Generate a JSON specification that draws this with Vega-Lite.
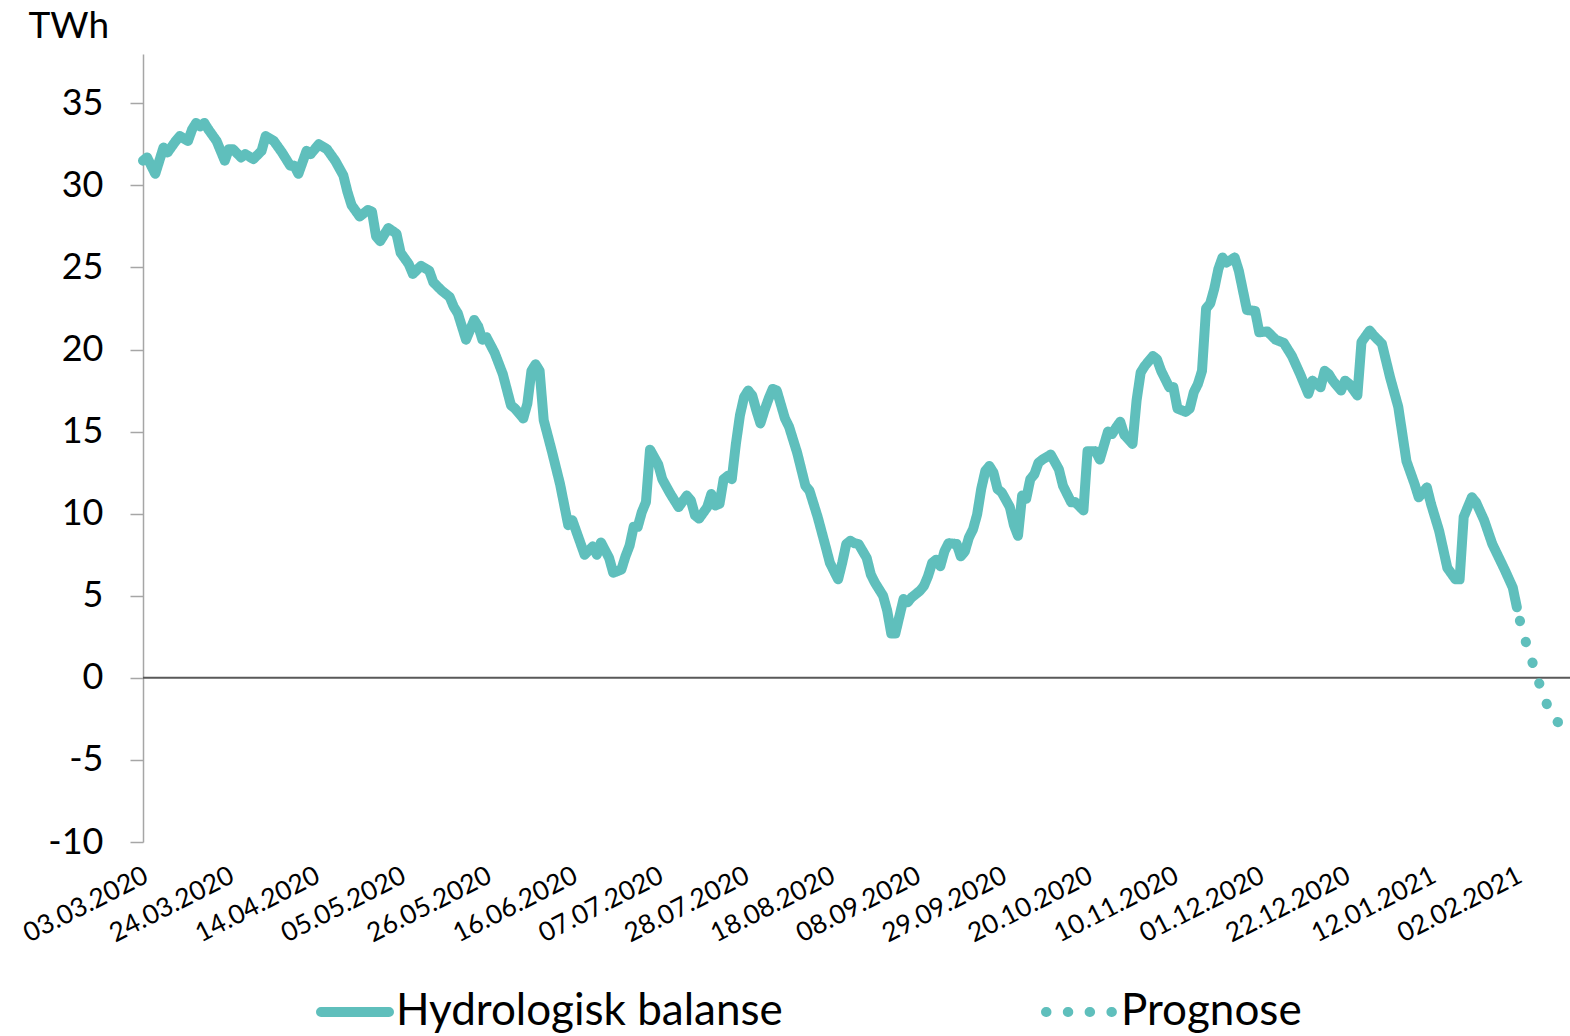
{
  "$schema": "https://vega.github.io/schema/vega-lite/v6.json",
  "width": 1427,
  "height": 788,
  "autosize": "none",
  "padding": {"left": 143, "top": 54, "right": 0, "bottom": 194},
  "background": "white",
  "config": {"view": {"stroke": null}, "font": "Lato"},
  "data": {"values": [
    {"dato":"2020-03-03","TWh":31.5,"serie":"Hydrologisk balanse"},
    {"dato":"2020-03-04","TWh":31.7,"serie":"Hydrologisk balanse"},
    {"dato":"2020-03-06","TWh":30.7,"serie":"Hydrologisk balanse"},
    {"dato":"2020-03-08","TWh":32.3,"serie":"Hydrologisk balanse"},
    {"dato":"2020-03-09","TWh":32.0,"serie":"Hydrologisk balanse"},
    {"dato":"2020-03-11","TWh":32.7,"serie":"Hydrologisk balanse"},
    {"dato":"2020-03-12","TWh":33.0,"serie":"Hydrologisk balanse"},
    {"dato":"2020-03-14","TWh":32.7,"serie":"Hydrologisk balanse"},
    {"dato":"2020-03-15","TWh":33.4,"serie":"Hydrologisk balanse"},
    {"dato":"2020-03-16","TWh":33.8,"serie":"Hydrologisk balanse"},
    {"dato":"2020-03-17","TWh":33.6,"serie":"Hydrologisk balanse"},
    {"dato":"2020-03-18","TWh":33.8,"serie":"Hydrologisk balanse"},
    {"dato":"2020-03-19","TWh":33.4,"serie":"Hydrologisk balanse"},
    {"dato":"2020-03-21","TWh":32.7,"serie":"Hydrologisk balanse"},
    {"dato":"2020-03-23","TWh":31.5,"serie":"Hydrologisk balanse"},
    {"dato":"2020-03-24","TWh":32.2,"serie":"Hydrologisk balanse"},
    {"dato":"2020-03-25","TWh":32.2,"serie":"Hydrologisk balanse"},
    {"dato":"2020-03-27","TWh":31.7,"serie":"Hydrologisk balanse"},
    {"dato":"2020-03-28","TWh":31.9,"serie":"Hydrologisk balanse"},
    {"dato":"2020-03-30","TWh":31.6,"serie":"Hydrologisk balanse"},
    {"dato":"2020-04-01","TWh":32.1,"serie":"Hydrologisk balanse"},
    {"dato":"2020-04-02","TWh":33.0,"serie":"Hydrologisk balanse"},
    {"dato":"2020-04-04","TWh":32.7,"serie":"Hydrologisk balanse"},
    {"dato":"2020-04-06","TWh":32.0,"serie":"Hydrologisk balanse"},
    {"dato":"2020-04-08","TWh":31.2,"serie":"Hydrologisk balanse"},
    {"dato":"2020-04-09","TWh":31.2,"serie":"Hydrologisk balanse"},
    {"dato":"2020-04-10","TWh":30.7,"serie":"Hydrologisk balanse"},
    {"dato":"2020-04-12","TWh":32.1,"serie":"Hydrologisk balanse"},
    {"dato":"2020-04-13","TWh":31.9,"serie":"Hydrologisk balanse"},
    {"dato":"2020-04-15","TWh":32.5,"serie":"Hydrologisk balanse"},
    {"dato":"2020-04-17","TWh":32.2,"serie":"Hydrologisk balanse"},
    {"dato":"2020-04-19","TWh":31.5,"serie":"Hydrologisk balanse"},
    {"dato":"2020-04-21","TWh":30.6,"serie":"Hydrologisk balanse"},
    {"dato":"2020-04-22","TWh":29.6,"serie":"Hydrologisk balanse"},
    {"dato":"2020-04-23","TWh":28.8,"serie":"Hydrologisk balanse"},
    {"dato":"2020-04-25","TWh":28.1,"serie":"Hydrologisk balanse"},
    {"dato":"2020-04-27","TWh":28.5,"serie":"Hydrologisk balanse"},
    {"dato":"2020-04-28","TWh":28.4,"serie":"Hydrologisk balanse"},
    {"dato":"2020-04-29","TWh":26.9,"serie":"Hydrologisk balanse"},
    {"dato":"2020-04-30","TWh":26.6,"serie":"Hydrologisk balanse"},
    {"dato":"2020-05-02","TWh":27.4,"serie":"Hydrologisk balanse"},
    {"dato":"2020-05-04","TWh":27.05,"serie":"Hydrologisk balanse"},
    {"dato":"2020-05-05","TWh":25.9,"serie":"Hydrologisk balanse"},
    {"dato":"2020-05-07","TWh":25.2,"serie":"Hydrologisk balanse"},
    {"dato":"2020-05-08","TWh":24.6,"serie":"Hydrologisk balanse"},
    {"dato":"2020-05-10","TWh":25.1,"serie":"Hydrologisk balanse"},
    {"dato":"2020-05-12","TWh":24.8,"serie":"Hydrologisk balanse"},
    {"dato":"2020-05-13","TWh":24.1,"serie":"Hydrologisk balanse"},
    {"dato":"2020-05-15","TWh":23.6,"serie":"Hydrologisk balanse"},
    {"dato":"2020-05-17","TWh":23.2,"serie":"Hydrologisk balanse"},
    {"dato":"2020-05-18","TWh":22.6,"serie":"Hydrologisk balanse"},
    {"dato":"2020-05-19","TWh":22.2,"serie":"Hydrologisk balanse"},
    {"dato":"2020-05-21","TWh":20.6,"serie":"Hydrologisk balanse"},
    {"dato":"2020-05-23","TWh":21.8,"serie":"Hydrologisk balanse"},
    {"dato":"2020-05-24","TWh":21.4,"serie":"Hydrologisk balanse"},
    {"dato":"2020-05-25","TWh":20.6,"serie":"Hydrologisk balanse"},
    {"dato":"2020-05-26","TWh":20.75,"serie":"Hydrologisk balanse"},
    {"dato":"2020-05-28","TWh":19.8,"serie":"Hydrologisk balanse"},
    {"dato":"2020-05-30","TWh":18.5,"serie":"Hydrologisk balanse"},
    {"dato":"2020-06-01","TWh":16.6,"serie":"Hydrologisk balanse"},
    {"dato":"2020-06-02","TWh":16.4,"serie":"Hydrologisk balanse"},
    {"dato":"2020-06-04","TWh":15.8,"serie":"Hydrologisk balanse"},
    {"dato":"2020-06-05","TWh":16.7,"serie":"Hydrologisk balanse"},
    {"dato":"2020-06-06","TWh":18.7,"serie":"Hydrologisk balanse"},
    {"dato":"2020-06-07","TWh":19.1,"serie":"Hydrologisk balanse"},
    {"dato":"2020-06-08","TWh":18.7,"serie":"Hydrologisk balanse"},
    {"dato":"2020-06-09","TWh":15.7,"serie":"Hydrologisk balanse"},
    {"dato":"2020-06-11","TWh":13.8,"serie":"Hydrologisk balanse"},
    {"dato":"2020-06-13","TWh":11.8,"serie":"Hydrologisk balanse"},
    {"dato":"2020-06-15","TWh":9.3,"serie":"Hydrologisk balanse"},
    {"dato":"2020-06-16","TWh":9.6,"serie":"Hydrologisk balanse"},
    {"dato":"2020-06-17","TWh":8.9,"serie":"Hydrologisk balanse"},
    {"dato":"2020-06-19","TWh":7.5,"serie":"Hydrologisk balanse"},
    {"dato":"2020-06-21","TWh":8.0,"serie":"Hydrologisk balanse"},
    {"dato":"2020-06-22","TWh":7.5,"serie":"Hydrologisk balanse"},
    {"dato":"2020-06-23","TWh":8.25,"serie":"Hydrologisk balanse"},
    {"dato":"2020-06-25","TWh":7.3,"serie":"Hydrologisk balanse"},
    {"dato":"2020-06-26","TWh":6.4,"serie":"Hydrologisk balanse"},
    {"dato":"2020-06-28","TWh":6.6,"serie":"Hydrologisk balanse"},
    {"dato":"2020-06-29","TWh":7.4,"serie":"Hydrologisk balanse"},
    {"dato":"2020-06-30","TWh":8.05,"serie":"Hydrologisk balanse"},
    {"dato":"2020-07-01","TWh":9.2,"serie":"Hydrologisk balanse"},
    {"dato":"2020-07-02","TWh":9.2,"serie":"Hydrologisk balanse"},
    {"dato":"2020-07-03","TWh":10.1,"serie":"Hydrologisk balanse"},
    {"dato":"2020-07-04","TWh":10.7,"serie":"Hydrologisk balanse"},
    {"dato":"2020-07-05","TWh":13.9,"serie":"Hydrologisk balanse"},
    {"dato":"2020-07-07","TWh":13.0,"serie":"Hydrologisk balanse"},
    {"dato":"2020-07-08","TWh":12.1,"serie":"Hydrologisk balanse"},
    {"dato":"2020-07-10","TWh":11.2,"serie":"Hydrologisk balanse"},
    {"dato":"2020-07-12","TWh":10.4,"serie":"Hydrologisk balanse"},
    {"dato":"2020-07-14","TWh":11.1,"serie":"Hydrologisk balanse"},
    {"dato":"2020-07-15","TWh":10.8,"serie":"Hydrologisk balanse"},
    {"dato":"2020-07-16","TWh":9.9,"serie":"Hydrologisk balanse"},
    {"dato":"2020-07-17","TWh":9.7,"serie":"Hydrologisk balanse"},
    {"dato":"2020-07-19","TWh":10.4,"serie":"Hydrologisk balanse"},
    {"dato":"2020-07-20","TWh":11.2,"serie":"Hydrologisk balanse"},
    {"dato":"2020-07-21","TWh":10.5,"serie":"Hydrologisk balanse"},
    {"dato":"2020-07-22","TWh":10.6,"serie":"Hydrologisk balanse"},
    {"dato":"2020-07-23","TWh":12.1,"serie":"Hydrologisk balanse"},
    {"dato":"2020-07-24","TWh":12.3,"serie":"Hydrologisk balanse"},
    {"dato":"2020-07-25","TWh":12.1,"serie":"Hydrologisk balanse"},
    {"dato":"2020-07-26","TWh":14.25,"serie":"Hydrologisk balanse"},
    {"dato":"2020-07-27","TWh":16.0,"serie":"Hydrologisk balanse"},
    {"dato":"2020-07-28","TWh":17.1,"serie":"Hydrologisk balanse"},
    {"dato":"2020-07-29","TWh":17.5,"serie":"Hydrologisk balanse"},
    {"dato":"2020-07-30","TWh":17.2,"serie":"Hydrologisk balanse"},
    {"dato":"2020-07-31","TWh":16.3,"serie":"Hydrologisk balanse"},
    {"dato":"2020-08-01","TWh":15.5,"serie":"Hydrologisk balanse"},
    {"dato":"2020-08-02","TWh":16.3,"serie":"Hydrologisk balanse"},
    {"dato":"2020-08-03","TWh":17.0,"serie":"Hydrologisk balanse"},
    {"dato":"2020-08-04","TWh":17.6,"serie":"Hydrologisk balanse"},
    {"dato":"2020-08-05","TWh":17.5,"serie":"Hydrologisk balanse"},
    {"dato":"2020-08-07","TWh":15.8,"serie":"Hydrologisk balanse"},
    {"dato":"2020-08-08","TWh":15.3,"serie":"Hydrologisk balanse"},
    {"dato":"2020-08-10","TWh":13.7,"serie":"Hydrologisk balanse"},
    {"dato":"2020-08-12","TWh":11.7,"serie":"Hydrologisk balanse"},
    {"dato":"2020-08-13","TWh":11.4,"serie":"Hydrologisk balanse"},
    {"dato":"2020-08-15","TWh":9.8,"serie":"Hydrologisk balanse"},
    {"dato":"2020-08-17","TWh":7.95,"serie":"Hydrologisk balanse"},
    {"dato":"2020-08-18","TWh":7.0,"serie":"Hydrologisk balanse"},
    {"dato":"2020-08-20","TWh":6.0,"serie":"Hydrologisk balanse"},
    {"dato":"2020-08-21","TWh":7.0,"serie":"Hydrologisk balanse"},
    {"dato":"2020-08-22","TWh":8.15,"serie":"Hydrologisk balanse"},
    {"dato":"2020-08-23","TWh":8.35,"serie":"Hydrologisk balanse"},
    {"dato":"2020-08-24","TWh":8.2,"serie":"Hydrologisk balanse"},
    {"dato":"2020-08-25","TWh":8.15,"serie":"Hydrologisk balanse"},
    {"dato":"2020-08-27","TWh":7.3,"serie":"Hydrologisk balanse"},
    {"dato":"2020-08-28","TWh":6.3,"serie":"Hydrologisk balanse"},
    {"dato":"2020-08-29","TWh":5.8,"serie":"Hydrologisk balanse"},
    {"dato":"2020-08-31","TWh":5.0,"serie":"Hydrologisk balanse"},
    {"dato":"2020-09-01","TWh":4.1,"serie":"Hydrologisk balanse"},
    {"dato":"2020-09-02","TWh":2.7,"serie":"Hydrologisk balanse"},
    {"dato":"2020-09-03","TWh":2.7,"serie":"Hydrologisk balanse"},
    {"dato":"2020-09-05","TWh":4.8,"serie":"Hydrologisk balanse"},
    {"dato":"2020-09-06","TWh":4.6,"serie":"Hydrologisk balanse"},
    {"dato":"2020-09-07","TWh":4.9,"serie":"Hydrologisk balanse"},
    {"dato":"2020-09-09","TWh":5.3,"serie":"Hydrologisk balanse"},
    {"dato":"2020-09-10","TWh":5.6,"serie":"Hydrologisk balanse"},
    {"dato":"2020-09-11","TWh":6.2,"serie":"Hydrologisk balanse"},
    {"dato":"2020-09-12","TWh":7.0,"serie":"Hydrologisk balanse"},
    {"dato":"2020-09-13","TWh":7.2,"serie":"Hydrologisk balanse"},
    {"dato":"2020-09-14","TWh":6.8,"serie":"Hydrologisk balanse"},
    {"dato":"2020-09-15","TWh":7.7,"serie":"Hydrologisk balanse"},
    {"dato":"2020-09-16","TWh":8.2,"serie":"Hydrologisk balanse"},
    {"dato":"2020-09-18","TWh":8.15,"serie":"Hydrologisk balanse"},
    {"dato":"2020-09-19","TWh":7.4,"serie":"Hydrologisk balanse"},
    {"dato":"2020-09-20","TWh":7.7,"serie":"Hydrologisk balanse"},
    {"dato":"2020-09-21","TWh":8.55,"serie":"Hydrologisk balanse"},
    {"dato":"2020-09-22","TWh":9.05,"serie":"Hydrologisk balanse"},
    {"dato":"2020-09-23","TWh":9.95,"serie":"Hydrologisk balanse"},
    {"dato":"2020-09-24","TWh":11.5,"serie":"Hydrologisk balanse"},
    {"dato":"2020-09-25","TWh":12.6,"serie":"Hydrologisk balanse"},
    {"dato":"2020-09-26","TWh":12.9,"serie":"Hydrologisk balanse"},
    {"dato":"2020-09-27","TWh":12.5,"serie":"Hydrologisk balanse"},
    {"dato":"2020-09-28","TWh":11.5,"serie":"Hydrologisk balanse"},
    {"dato":"2020-09-29","TWh":11.3,"serie":"Hydrologisk balanse"},
    {"dato":"2020-10-01","TWh":10.4,"serie":"Hydrologisk balanse"},
    {"dato":"2020-10-02","TWh":9.3,"serie":"Hydrologisk balanse"},
    {"dato":"2020-10-03","TWh":8.65,"serie":"Hydrologisk balanse"},
    {"dato":"2020-10-04","TWh":11.1,"serie":"Hydrologisk balanse"},
    {"dato":"2020-10-05","TWh":10.9,"serie":"Hydrologisk balanse"},
    {"dato":"2020-10-06","TWh":12.1,"serie":"Hydrologisk balanse"},
    {"dato":"2020-10-07","TWh":12.4,"serie":"Hydrologisk balanse"},
    {"dato":"2020-10-08","TWh":13.1,"serie":"Hydrologisk balanse"},
    {"dato":"2020-10-09","TWh":13.3,"serie":"Hydrologisk balanse"},
    {"dato":"2020-10-11","TWh":13.6,"serie":"Hydrologisk balanse"},
    {"dato":"2020-10-13","TWh":12.7,"serie":"Hydrologisk balanse"},
    {"dato":"2020-10-14","TWh":11.7,"serie":"Hydrologisk balanse"},
    {"dato":"2020-10-16","TWh":10.7,"serie":"Hydrologisk balanse"},
    {"dato":"2020-10-17","TWh":10.7,"serie":"Hydrologisk balanse"},
    {"dato":"2020-10-19","TWh":10.2,"serie":"Hydrologisk balanse"},
    {"dato":"2020-10-20","TWh":13.8,"serie":"Hydrologisk balanse"},
    {"dato":"2020-10-22","TWh":13.8,"serie":"Hydrologisk balanse"},
    {"dato":"2020-10-23","TWh":13.3,"serie":"Hydrologisk balanse"},
    {"dato":"2020-10-25","TWh":15.0,"serie":"Hydrologisk balanse"},
    {"dato":"2020-10-26","TWh":14.85,"serie":"Hydrologisk balanse"},
    {"dato":"2020-10-27","TWh":15.25,"serie":"Hydrologisk balanse"},
    {"dato":"2020-10-28","TWh":15.6,"serie":"Hydrologisk balanse"},
    {"dato":"2020-10-29","TWh":14.8,"serie":"Hydrologisk balanse"},
    {"dato":"2020-10-31","TWh":14.25,"serie":"Hydrologisk balanse"},
    {"dato":"2020-11-01","TWh":16.9,"serie":"Hydrologisk balanse"},
    {"dato":"2020-11-02","TWh":18.6,"serie":"Hydrologisk balanse"},
    {"dato":"2020-11-03","TWh":19.0,"serie":"Hydrologisk balanse"},
    {"dato":"2020-11-05","TWh":19.6,"serie":"Hydrologisk balanse"},
    {"dato":"2020-11-06","TWh":19.4,"serie":"Hydrologisk balanse"},
    {"dato":"2020-11-07","TWh":18.7,"serie":"Hydrologisk balanse"},
    {"dato":"2020-11-09","TWh":17.7,"serie":"Hydrologisk balanse"},
    {"dato":"2020-11-10","TWh":17.7,"serie":"Hydrologisk balanse"},
    {"dato":"2020-11-11","TWh":16.4,"serie":"Hydrologisk balanse"},
    {"dato":"2020-11-13","TWh":16.2,"serie":"Hydrologisk balanse"},
    {"dato":"2020-11-14","TWh":16.4,"serie":"Hydrologisk balanse"},
    {"dato":"2020-11-15","TWh":17.4,"serie":"Hydrologisk balanse"},
    {"dato":"2020-11-16","TWh":17.9,"serie":"Hydrologisk balanse"},
    {"dato":"2020-11-17","TWh":18.7,"serie":"Hydrologisk balanse"},
    {"dato":"2020-11-18","TWh":22.5,"serie":"Hydrologisk balanse"},
    {"dato":"2020-11-19","TWh":22.8,"serie":"Hydrologisk balanse"},
    {"dato":"2020-11-20","TWh":23.7,"serie":"Hydrologisk balanse"},
    {"dato":"2020-11-21","TWh":24.9,"serie":"Hydrologisk balanse"},
    {"dato":"2020-11-22","TWh":25.6,"serie":"Hydrologisk balanse"},
    {"dato":"2020-11-23","TWh":25.3,"serie":"Hydrologisk balanse"},
    {"dato":"2020-11-25","TWh":25.6,"serie":"Hydrologisk balanse"},
    {"dato":"2020-11-26","TWh":24.8,"serie":"Hydrologisk balanse"},
    {"dato":"2020-11-27","TWh":23.6,"serie":"Hydrologisk balanse"},
    {"dato":"2020-11-28","TWh":22.4,"serie":"Hydrologisk balanse"},
    {"dato":"2020-11-30","TWh":22.35,"serie":"Hydrologisk balanse"},
    {"dato":"2020-12-01","TWh":21.05,"serie":"Hydrologisk balanse"},
    {"dato":"2020-12-03","TWh":21.1,"serie":"Hydrologisk balanse"},
    {"dato":"2020-12-05","TWh":20.6,"serie":"Hydrologisk balanse"},
    {"dato":"2020-12-07","TWh":20.4,"serie":"Hydrologisk balanse"},
    {"dato":"2020-12-09","TWh":19.6,"serie":"Hydrologisk balanse"},
    {"dato":"2020-12-11","TWh":18.5,"serie":"Hydrologisk balanse"},
    {"dato":"2020-12-13","TWh":17.3,"serie":"Hydrologisk balanse"},
    {"dato":"2020-12-14","TWh":18.1,"serie":"Hydrologisk balanse"},
    {"dato":"2020-12-16","TWh":17.7,"serie":"Hydrologisk balanse"},
    {"dato":"2020-12-17","TWh":18.7,"serie":"Hydrologisk balanse"},
    {"dato":"2020-12-18","TWh":18.5,"serie":"Hydrologisk balanse"},
    {"dato":"2020-12-19","TWh":18.1,"serie":"Hydrologisk balanse"},
    {"dato":"2020-12-21","TWh":17.5,"serie":"Hydrologisk balanse"},
    {"dato":"2020-12-22","TWh":18.1,"serie":"Hydrologisk balanse"},
    {"dato":"2020-12-23","TWh":17.9,"serie":"Hydrologisk balanse"},
    {"dato":"2020-12-25","TWh":17.2,"serie":"Hydrologisk balanse"},
    {"dato":"2020-12-26","TWh":20.45,"serie":"Hydrologisk balanse"},
    {"dato":"2020-12-28","TWh":21.15,"serie":"Hydrologisk balanse"},
    {"dato":"2020-12-29","TWh":20.85,"serie":"Hydrologisk balanse"},
    {"dato":"2020-12-31","TWh":20.35,"serie":"Hydrologisk balanse"},
    {"dato":"2021-01-02","TWh":18.3,"serie":"Hydrologisk balanse"},
    {"dato":"2021-01-04","TWh":16.5,"serie":"Hydrologisk balanse"},
    {"dato":"2021-01-05","TWh":14.85,"serie":"Hydrologisk balanse"},
    {"dato":"2021-01-06","TWh":13.2,"serie":"Hydrologisk balanse"},
    {"dato":"2021-01-08","TWh":11.8,"serie":"Hydrologisk balanse"},
    {"dato":"2021-01-09","TWh":11.0,"serie":"Hydrologisk balanse"},
    {"dato":"2021-01-11","TWh":11.6,"serie":"Hydrologisk balanse"},
    {"dato":"2021-01-12","TWh":10.6,"serie":"Hydrologisk balanse"},
    {"dato":"2021-01-14","TWh":8.95,"serie":"Hydrologisk balanse"},
    {"dato":"2021-01-16","TWh":6.7,"serie":"Hydrologisk balanse"},
    {"dato":"2021-01-18","TWh":6.0,"serie":"Hydrologisk balanse"},
    {"dato":"2021-01-19","TWh":6.0,"serie":"Hydrologisk balanse"},
    {"dato":"2021-01-20","TWh":9.8,"serie":"Hydrologisk balanse"},
    {"dato":"2021-01-22","TWh":11.0,"serie":"Hydrologisk balanse"},
    {"dato":"2021-01-23","TWh":10.7,"serie":"Hydrologisk balanse"},
    {"dato":"2021-01-25","TWh":9.6,"serie":"Hydrologisk balanse"},
    {"dato":"2021-01-27","TWh":8.15,"serie":"Hydrologisk balanse"},
    {"dato":"2021-01-30","TWh":6.6,"serie":"Hydrologisk balanse"},
    {"dato":"2021-02-01","TWh":5.5,"serie":"Hydrologisk balanse"},
    {"dato":"2021-02-02","TWh":4.3,"serie":"Hydrologisk balanse"},
    {"dato":"2021-02-02","TWh":4.3,"serie":"Prognose"},
    {"dato":"2021-02-03","TWh":3.2,"serie":"Prognose"},
    {"dato":"2021-02-04","TWh":2.35,"serie":"Prognose"},
    {"dato":"2021-02-05","TWh":1.55,"serie":"Prognose"},
    {"dato":"2021-02-06","TWh":0.8,"serie":"Prognose"},
    {"dato":"2021-02-07","TWh":0.0,"serie":"Prognose"},
    {"dato":"2021-02-08","TWh":-0.7,"serie":"Prognose"},
    {"dato":"2021-02-09","TWh":-1.4,"serie":"Prognose"},
    {"dato":"2021-02-10","TWh":-2.0,"serie":"Prognose"},
    {"dato":"2021-02-11","TWh":-2.5,"serie":"Prognose"},
    {"dato":"2021-02-12","TWh":-2.7,"serie":"Prognose"},
    {"dato":"2021-02-13","TWh":-2.7,"serie":"Prognose"},
    {"dato":"2021-02-14","TWh":-2.7,"serie":"Prognose"},
    {"dato":"2021-02-15","TWh":-2.65,"serie":"Prognose"}
  ]},
  "layer": [
    {
      "data": {"values": [{"TWh": 0}]},
      "mark": {"type": "rule", "color": "#595959", "strokeWidth": 2},
      "encoding": {"y": {"field": "TWh", "type": "quantitative"}}
    },
    {
      "mark": {"type": "line", "strokeWidth": 10, "strokeCap": "round", "strokeJoin": "round", "strokeDashOffset": 8},
      "encoding": {
        "x": {
          "field": "dato", "type": "temporal",
          "scale": {"type": "utc", "domain": [{"year": 2020, "month": 3, "date": 3, "utc": true}, {"year": 2021, "month": 2, "date": 15, "utc": true}]},
          "axis": {
            "title": null, "grid": false, "domain": false, "ticks": false,
            "format": "%d.%m.%Y", "labelAngle": -27, "labelAlign": "right", "labelBaseline": "top",
            "labelFont": "Lato", "labelFontSize": 26.5, "labelColor": "#000000", "labelPadding": 20, "labelOffset": -3,
            "labelOverlap": false, "labelFlush": false, "labelBound": false,
            "values": [
              {"year": 2020, "month": 3, "date": 3, "utc": true},
              {"year": 2020, "month": 3, "date": 24, "utc": true},
              {"year": 2020, "month": 4, "date": 14, "utc": true},
              {"year": 2020, "month": 5, "date": 5, "utc": true},
              {"year": 2020, "month": 5, "date": 26, "utc": true},
              {"year": 2020, "month": 6, "date": 16, "utc": true},
              {"year": 2020, "month": 7, "date": 7, "utc": true},
              {"year": 2020, "month": 7, "date": 28, "utc": true},
              {"year": 2020, "month": 8, "date": 18, "utc": true},
              {"year": 2020, "month": 9, "date": 8, "utc": true},
              {"year": 2020, "month": 9, "date": 29, "utc": true},
              {"year": 2020, "month": 10, "date": 20, "utc": true},
              {"year": 2020, "month": 11, "date": 10, "utc": true},
              {"year": 2020, "month": 12, "date": 1, "utc": true},
              {"year": 2020, "month": 12, "date": 22, "utc": true},
              {"year": 2021, "month": 1, "date": 12, "utc": true},
              {"year": 2021, "month": 2, "date": 2, "utc": true}
            ]
          }
        },
        "y": {
          "field": "TWh", "type": "quantitative",
          "scale": {"domain": [-10, 38], "nice": false, "zero": false},
          "axis": {
            "values": [-10, -5, 0, 5, 10, 15, 20, 25, 30, 35], "grid": false,
            "labelExpr": "datum.value < 0 ? '-' + abs(datum.value) : '' + datum.value",
            "domainColor": "#a6a6a6", "domainWidth": 1.5, "tickColor": "#a6a6a6", "tickWidth": 1.5, "tickSize": 13,
            "labelFont": "Lato", "labelFontSize": 36, "labelColor": "#000000", "labelPadding": 27,
            "title": "TWh", "titleAngle": 0, "titleAlign": "left", "titleBaseline": "alphabetic",
            "titleX": -115, "titleY": -17, "titleFont": "Lato", "titleFontSize": 37, "titleFontWeight": "normal", "titleColor": "#000000"
          }
        },
        "color": {
          "field": "serie", "type": "nominal",
          "scale": {"domain": ["Hydrologisk balanse", "Prognose"], "range": ["#5fbfbc", "#5fbfbc"]},
          "legend": {
            "title": null, "orient": "none", "legendX": 173, "legendY": 919, "direction": "horizontal",
            "symbolType": "stroke", "symbolSize": 4624, "symbolStrokeWidth": 10,
            "labelFont": "Lato", "labelFontSize": 44, "labelColor": "#000000", "labelOffset": 2, "labelLimit": 800,
            "columnPadding": 243, "padding": 0,
            "encode": {"symbols": {"update": {"strokeCap": {"value": "round"}}}}
          }
        },
        "strokeDash": {
          "field": "serie", "type": "nominal",
          "scale": {"domain": ["Hydrologisk balanse", "Prognose"], "range": [[1, 0], [0.5, 21.3]]},
          "legend": {
            "title": null, "orient": "none", "legendX": 173, "legendY": 919, "direction": "horizontal",
            "symbolType": "stroke", "symbolSize": 4624, "symbolStrokeWidth": 10,
            "labelFont": "Lato", "labelFontSize": 44, "labelColor": "#000000", "labelOffset": 2, "labelLimit": 800,
            "columnPadding": 243, "padding": 0,
            "encode": {"symbols": {"update": {"strokeCap": {"value": "round"}}}}
          }
        }
      }
    }
  ]
}
